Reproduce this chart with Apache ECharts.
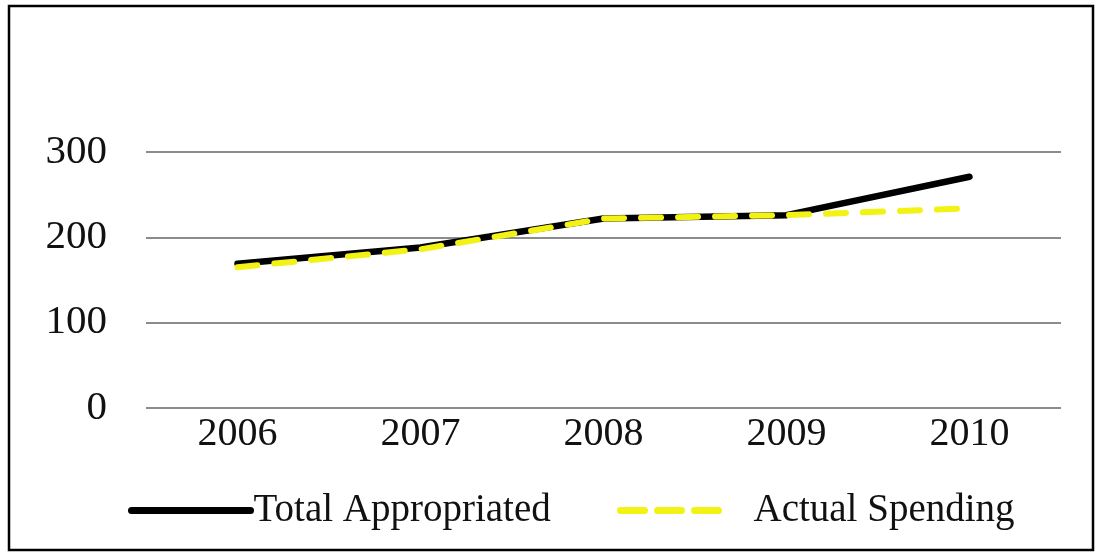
<!DOCTYPE html>
<html>
<head>
<meta charset="utf-8">
<script src="https://cdn.jsdelivr.net/npm/echarts@6/dist/echarts.min.js"></script>
<style>
  html, body { margin: 0; padding: 0; background: #fff; }
  #chart { width: 1103px; height: 556px; }
</style>
</head>
<body>
<div id="chart"></div>
<script>
// Years on the category axis
const years = ['2006', '2007', '2008', '2009', '2010'];
// Appropriated totals per year
const totalAppropriated = [169, 188, 222, 226, 271];
// Actual spending per year
const actualSpending = [165, 186, 222, 226, 234];
// Value axis ticks
const yTicks = [0, 100, 200, 300];

const serif = '"Liberation Serif", "Times New Roman", serif';
const yellow = '#f2f214';
const chart = echarts.init(document.getElementById('chart'), null, { renderer: 'canvas' });

chart.setOption({
  backgroundColor: '#fff',
  animation: false,
  grid: { left: 146, right: 42, top: 152, bottom: 148, containLabel: false },
  xAxis: {
    type: 'category',
    data: years,
    boundaryGap: true,
    axisLine: { show: false },
    axisTick: { show: false },
    axisLabel: { margin: 6, fontFamily: serif, fontSize: 40, color: '#111' }
  },
  yAxis: {
    type: 'value',
    min: yTicks[0],
    max: yTicks[yTicks.length - 1],
    interval: yTicks[1] - yTicks[0],
    axisLine: { show: false },
    axisTick: { show: false },
    axisLabel: { margin: 39, fontFamily: serif, fontSize: 41, color: '#111' },
    splitLine: { lineStyle: { color: '#8c8c8c', width: 2 } }
  },
  legend: [
    {
      data: ['Total Appropriated'],
      left: 123, top: 486,
      itemWidth: 119, itemHeight: 14,
      itemStyle: { opacity: 0 },
      lineStyle: { color: '#000', width: 7, cap: 'round' },
      textStyle: { fontFamily: serif, fontSize: 39, color: '#111', padding: [0, 0, 0, -2] }
    },
    {
      data: ['Actual Spending'],
      left: 612, top: 486,
      itemWidth: 106, itemHeight: 14,
      itemStyle: { opacity: 0 },
      lineStyle: { color: yellow, width: 7, type: [24, 13], cap: 'round' },
      textStyle: { fontFamily: serif, fontSize: 39, color: '#111', padding: [0, 0, 0, 22] }
    }
  ],
  graphic: [
    {
      type: 'rect',
      shape: { x: 9, y: 6, width: 1084, height: 544 },
      style: { fill: 'none', stroke: '#000', lineWidth: 2.5 },
      silent: true
    }
  ],
  series: [
    {
      name: 'Total Appropriated',
      type: 'line',
      data: totalAppropriated,
      symbol: 'none',
      lineStyle: { color: '#000', width: 6.5, cap: 'round', join: 'round' },
      itemStyle: { color: '#000' }
    },
    {
      name: 'Actual Spending',
      type: 'line',
      data: actualSpending,
      symbol: 'none',
      lineStyle: { color: yellow, width: 6, type: [20, 17], cap: 'round', join: 'round' },
      itemStyle: { color: yellow }
    }
  ]
});
</script>
</body>
</html>
